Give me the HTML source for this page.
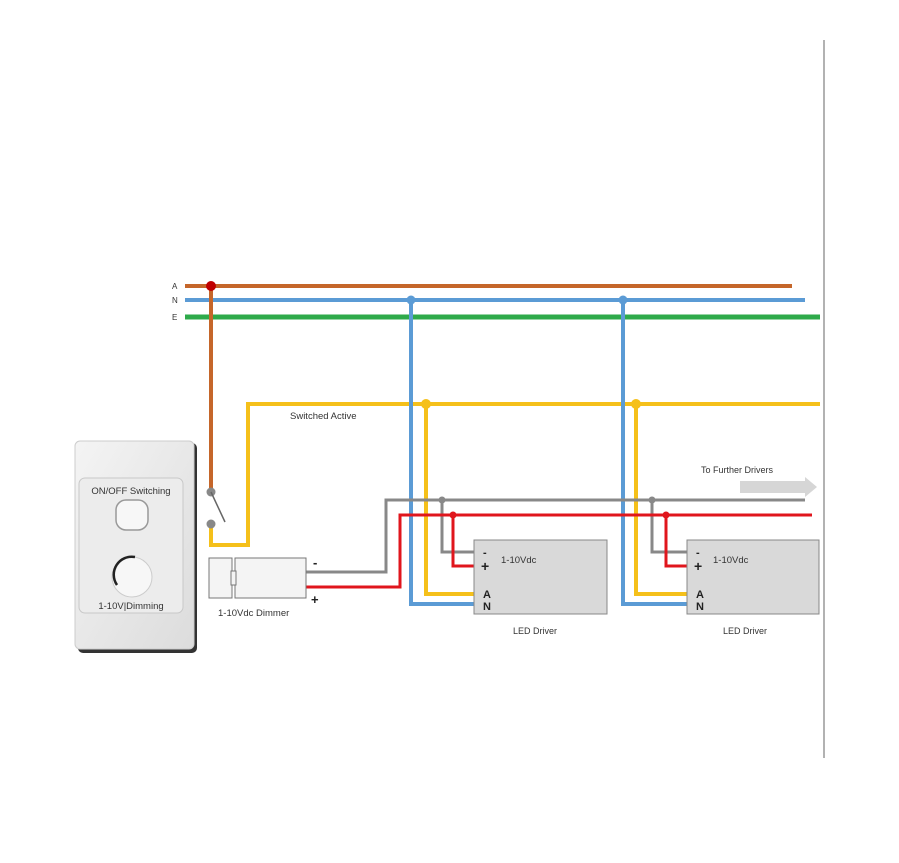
<!DOCTYPE html>
<html><head><style>body{margin:0;background:#fff}svg{display:block}text{font-family:"Liberation Sans",sans-serif}</style></head>
<body>
<svg width="899" height="863" viewBox="0 0 899 863" xmlns="http://www.w3.org/2000/svg">
<defs><linearGradient id="pl" x1="0" y1="0" x2="1" y2="1"><stop offset="0" stop-color="#f4f4f4"/><stop offset="1" stop-color="#dcdcdc"/></linearGradient></defs>
<line x1="824" y1="40" x2="824" y2="758" stroke="#999" stroke-width="1.5"/>
<!-- switch plate -->
<rect x="78" y="443" width="119" height="210" rx="5" fill="#333"/>
<rect x="75" y="441" width="119" height="208" rx="5" fill="url(#pl)" stroke="#ccc"/>
<rect x="79" y="478" width="104" height="135" rx="6" fill="#ececec" stroke="#c8c8c8"/>
<text x="131" y="494" font-size="9.5" fill="#333" text-anchor="middle">ON/OFF Switching</text>
<rect x="116" y="500" width="32" height="30" rx="10" fill="#f7f7f7" stroke="#999" stroke-width="1.5"/>
<circle cx="132" cy="577" r="20" fill="#f7f7f7" stroke="#ccc"/>
<path d="M117 585 A18 18 0 0 1 135 557" stroke="#222" stroke-width="2.5" fill="none"/>
<text x="131" y="609" font-size="9.5" fill="#333" text-anchor="middle">1-10V|Dimming</text>
<!-- mains -->
<line x1="185" y1="286" x2="792" y2="286" stroke="#c5662a" stroke-width="4"/>
<line x1="185" y1="300" x2="805" y2="300" stroke="#5b9bd5" stroke-width="4"/>
<line x1="185" y1="317" x2="820" y2="317" stroke="#2eaa4a" stroke-width="5"/>
<text x="172" y="289" font-size="8" fill="#333">A</text>
<text x="172" y="303" font-size="8" fill="#333">N</text>
<text x="172" y="320" font-size="8" fill="#333">E</text>
<line x1="211" y1="286" x2="211" y2="492" stroke="#c5662a" stroke-width="4"/>
<!-- yellow -->
<polyline points="211,526 211,545 248,545 248,404 820,404" fill="none" stroke="#f5c01a" stroke-width="4"/>
<polyline points="426,404 426,594 474,594" fill="none" stroke="#f5c01a" stroke-width="4"/>
<polyline points="636,404 636,594 687,594" fill="none" stroke="#f5c01a" stroke-width="4"/>
<!-- neutral drops -->
<polyline points="411,300 411,604 474,604" fill="none" stroke="#5b9bd5" stroke-width="4"/>
<polyline points="623,300 623,604 687,604" fill="none" stroke="#5b9bd5" stroke-width="4"/>
<!-- gray / red -->
<polyline points="306,572 386,572 386,500 805,500" fill="none" stroke="#888" stroke-width="3"/>
<polyline points="442,500 442,552 474,552" fill="none" stroke="#888" stroke-width="3"/>
<polyline points="652,500 652,552 687,552" fill="none" stroke="#888" stroke-width="3"/>
<polyline points="306,587 400,587 400,515 812,515" fill="none" stroke="#e0161d" stroke-width="3"/>
<polyline points="453,515 453,566 474,566" fill="none" stroke="#e0161d" stroke-width="3"/>
<polyline points="666,515 666,566 687,566" fill="none" stroke="#e0161d" stroke-width="3"/>
<!-- dots -->
<circle cx="211" cy="286" r="5" fill="#c00000"/>
<circle cx="411" cy="300" r="4.5" fill="#5b9bd5"/>
<circle cx="623" cy="300" r="4.5" fill="#5b9bd5"/>
<circle cx="426" cy="404" r="5" fill="#f5c01a"/>
<circle cx="636" cy="404" r="5" fill="#f5c01a"/>
<circle cx="442" cy="500" r="3.5" fill="#888"/>
<circle cx="652" cy="500" r="3.5" fill="#888"/>
<circle cx="453" cy="515" r="3.5" fill="#e0161d"/>
<circle cx="666" cy="515" r="3.5" fill="#e0161d"/>
<!-- switch -->
<circle cx="211" cy="492" r="4.5" fill="#888"/>
<circle cx="211" cy="524" r="4.5" fill="#888"/>
<line x1="211" y1="492" x2="225" y2="522" stroke="#666" stroke-width="1.5"/>
<text x="290" y="419" font-size="9.5" fill="#333">Switched Active</text>
<!-- dimmer -->
<rect x="209" y="558" width="23" height="40" fill="#f4f4f4" stroke="#777"/>
<rect x="235" y="558" width="71" height="40" fill="#f4f4f4" stroke="#777"/>
<rect x="231" y="571" width="5" height="14" fill="#f4f4f4" stroke="#777"/>
<text x="313" y="567" font-size="13" font-weight="bold" fill="#222">-</text>
<text x="311" y="604" font-size="13" font-weight="bold" fill="#222">+</text>
<text x="218" y="616" font-size="9.5" fill="#333">1-10Vdc Dimmer</text>
<!-- drivers -->
<rect x="474" y="540" width="133" height="74" fill="#d9d9d9" stroke="#888"/>
<rect x="687" y="540" width="132" height="74" fill="#d9d9d9" stroke="#888"/>
<g font-weight="bold" fill="#222" font-size="11">
<text x="483" y="556">-</text><text x="481" y="571" font-size="14">+</text><text x="483" y="598">A</text><text x="483" y="610">N</text>
<text x="696" y="556">-</text><text x="694" y="571" font-size="14">+</text><text x="696" y="598">A</text><text x="696" y="610">N</text>
</g>
<text x="501" y="563" font-size="9.5" fill="#333">1-10Vdc</text>
<text x="713" y="563" font-size="9.5" fill="#333">1-10Vdc</text>
<text x="513" y="634" font-size="9" fill="#333">LED Driver</text>
<text x="723" y="634" font-size="9" fill="#333">LED Driver</text>
<text x="701" y="473" font-size="9" fill="#333">To Further Drivers</text>
<polygon points="740,481 805,481 805,477 817,487 805,497 805,493 740,493" fill="#d6d6d6"/>
</svg>
</body></html>
